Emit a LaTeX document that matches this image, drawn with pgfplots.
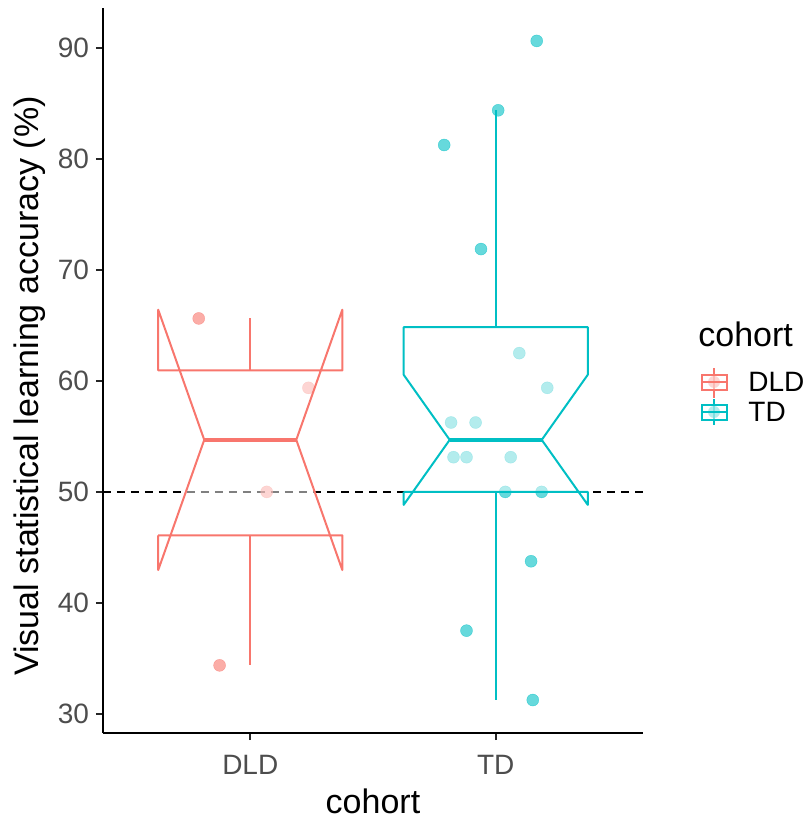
\documentclass[border=0pt]{standalone}
\usepackage{fontspec}
\setmainfont{Liberation Sans}
\usepackage{pgfplots}
\pgfplotsset{compat=1.18}

\definecolor{dld}{HTML}{F8766D}
\definecolor{td}{HTML}{00BFC4}
\definecolor{gray30}{HTML}{4D4D4D}

% jittered points (x jitter)
\pgfplotstableread{
x y
0.790 65.625
1.237 59.375
1.067 50.000
0.875 34.375
}\dldpts
\pgfplotstableread{
x y
2.167 90.625
2.010 84.375
1.790 81.250
1.940 71.875
2.096 62.500
2.210 59.375
1.818 56.250
1.918 56.250
1.828 53.125
1.881 53.125
2.061 53.125
2.039 50.000
2.187 50.000
2.144 43.750
1.881 37.500
2.151 31.250
}\tdpts

\begin{document}
\begin{tikzpicture}
\useasboundingbox (-51.5pt,-43.5pt) rectangle (352pt,366.5pt);
\begin{axis}[
  at={(0,0)}, anchor=south west,
  scale only axis, width=270pt, height=362.5pt,
  xmin=0.4, xmax=2.6, ymin=28.28, ymax=93.59,
  clip marker paths=true,
  axis lines*=left,
  axis line style={black, line width=1.3pt},
  xtick={1,2}, xticklabels={DLD,TD},
  ytick={30,40,...,90},
  tick align=outside, major tick length=3.5pt,
  tick style={black!85, line width=1.1pt},
  /pgf/number format/assume math mode=true,
  ticklabel style={font=\fontsize{14}{14}\selectfont, text=gray30},
  xticklabel style={anchor=base, yshift=-17pt},
  yticklabel style={anchor=east},
  xlabel={cohort},
  ylabel={Visual statistical learning accuracy (\%)},
  every axis x label/.style={at={(axis description cs:0.5,0)}, anchor=base, yshift=-40pt, font=\fontsize{17}{17}\selectfont},
  every axis y label/.style={at={(axis description cs:-0.1352,0.4786)}, rotate=90, anchor=center, font=\fontsize{17}{17}\selectfont},
]
% reference line at chance
\addplot[black, line width=0.8pt, dash pattern=on 4pt off 3pt] coordinates {(0.4,50) (2.6,50)};

% points
\addplot[color=dld, only marks, mark=*, mark size=3pt, opacity=0.6, mark options={fill=dld, draw=dld, line width=0.2pt}] table {\dldpts};
\addplot[color=td, only marks, mark=*, mark size=3pt, opacity=0.6, mark options={fill=td, draw=td, line width=0.2pt}] table {\tdpts};

% DLD notched box
\addplot[color=dld, line width=1pt, fill=white, fill opacity=0.5, line join=round] coordinates {
 (0.625,46.09) (0.625,42.96) (0.8125,54.6875) (0.625,66.41) (0.625,60.94)
 (1.375,60.94) (1.375,66.41) (1.1875,54.6875) (1.375,42.96) (1.375,46.09) (0.625,46.09)};
\addplot[color=dld, line width=1pt] coordinates {(1,60.94) (1,65.625)};
\addplot[color=dld, line width=1pt] coordinates {(1,46.09) (1,34.375)};
\addplot[color=dld, line width=2pt] coordinates {(0.8125,54.6875) (1.1875,54.6875)};

% TD notched box
\addplot[color=td, line width=1pt, fill=white, fill opacity=0.5, line join=round] coordinates {
 (1.625,50.00) (1.625,48.83) (1.8125,54.6875) (1.625,60.55) (1.625,64.84)
 (2.375,64.84) (2.375,60.55) (2.1875,54.6875) (2.375,48.83) (2.375,50.00) (1.625,50.00)};
\addplot[color=td, line width=1pt] coordinates {(2,64.84) (2,84.375)};
\addplot[color=td, line width=1pt] coordinates {(2,50.00) (2,31.25)};
\addplot[color=td, line width=2pt] coordinates {(1.8125,54.6875) (2.1875,54.6875)};
\end{axis}

% legend
\node[anchor=base west, font=\fontsize{17}{17}\selectfont, inner sep=0pt] at (297.5pt,193.2pt) {cohort};
\fill[dld, opacity=0.6] (305.5pt,175.5pt) circle (3pt);
\draw[dld, line width=1pt] (305.5pt,167.5pt) -- (305.5pt,182.5pt);
\filldraw[draw=dld, fill=white, fill opacity=0.5, line width=1pt] (299.35pt,171.5pt) rectangle (311.85pt,179pt);
\draw[dld, line width=1pt] (299.35pt,175.5pt) -- (311.85pt,175.5pt);
\fill[td, opacity=0.6] (305.5pt,160.5pt) circle (3pt);
\draw[td, line width=1pt] (305.5pt,154pt) -- (305.5pt,167pt);
\filldraw[draw=td, fill=white, fill opacity=0.5, line width=1pt] (299.35pt,156.5pt) rectangle (311.85pt,164pt);
\draw[td, line width=1pt] (299.35pt,160.5pt) -- (311.85pt,160.5pt);
\node[anchor=west, font=\fontsize{14}{14}\selectfont, inner sep=0pt] at (322.5pt,175.5pt) {DLD};
\node[anchor=west, font=\fontsize{14}{14}\selectfont, inner sep=0pt] at (322.5pt,160.5pt) {TD};
\end{tikzpicture}
\end{document}
